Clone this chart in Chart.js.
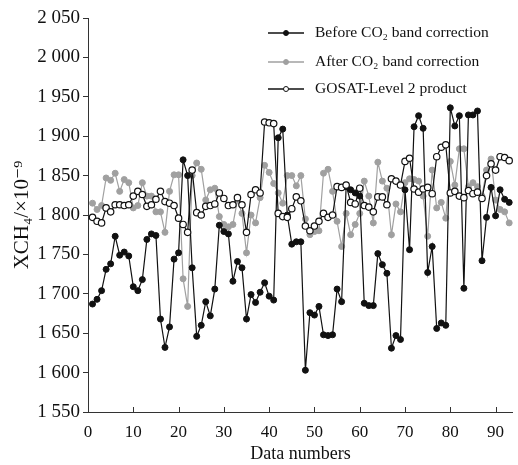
<!DOCTYPE html>
<html>
<head>
<meta charset="utf-8">
<script src="https://cdn.jsdelivr.net/npm/chart.js@4.4.0/dist/chart.umd.min.js"></script>
<style>
  html, body { margin: 0; padding: 0; background: #fff; }
</style>
</head>
<body>
<canvas id="c" width="518" height="465"></canvas>
<script>
// XCH4 values (x10^-9), data numbers 1..93
const beforeCO2 = [
  1687, 1693, 1704, 1731, 1738, 1773, 1749, 1753, 1748, 1709,
  1704, 1718, 1769, 1776, 1774, 1668, 1632, 1658, 1744, 1752,
  1870, 1850, 1733, 1646, 1660, 1690, 1672, 1706, 1787, 1779,
  1776, 1716, 1741, 1733, 1668, 1699, 1689, 1702, 1714, 1697,
  1692, 1898, 1909, 1800, 1763, 1766, 1766, 1603, 1676, 1673,
  1684, 1648, 1647, 1648, 1706, 1690, 1836, 1832, 1828, 1824,
  1688, 1685, 1685, 1751, 1737, 1726, 1631, 1647, 1642, 1832,
  1756, 1912, 1926, 1910, 1727, 1760, 1656, 1663, 1660, 1936,
  1913, 1926, 1707, 1927, 1927, 1932, 1742, 1797, 1835, 1799,
  1832, 1820, 1816
];
const afterCO2 = [
  1815, 1807, 1812, 1847, 1844, 1853, 1830, 1845, 1841, 1809,
  1812, 1841, 1824, 1824, 1804, 1804, 1778, 1830, 1851, 1851,
  1719, 1684, 1850, 1866, 1858, 1819, 1832, 1834, 1798, 1788,
  1785, 1788, 1819, 1802, 1752, 1800, 1790, 1822, 1863, 1854,
  1840, 1828, 1815, 1850, 1850, 1837, 1850, 1795, 1775, 1779,
  1780, 1853, 1858, 1830, 1792, 1760, 1802, 1775, 1788, 1802,
  1843, 1824, 1790, 1867, 1843, 1834, 1775, 1814, 1804, 1841,
  1846, 1845, 1843, 1824, 1773, 1857, 1809, 1816, 1796, 1868,
  1838, 1884, 1884, 1836, 1841, 1836, 1824, 1857, 1871, 1819,
  1807, 1804, 1790
];
const gosatL2 = [
  1797, 1792, 1790, 1809, 1804, 1813, 1813, 1812, 1813, 1824,
  1830, 1826, 1811, 1813, 1820, 1830, 1817, 1815, 1812, 1796,
  1788, 1778, 1857, 1803, 1800, 1811, 1812, 1814, 1828, 1821,
  1812, 1813, 1822, 1813, 1778, 1826, 1832, 1828, 1918, 1917,
  1916, 1802, 1798, 1797, 1808, 1823, 1818, 1786, 1780, 1786,
  1792, 1802, 1797, 1800, 1836, 1835, 1838, 1816, 1814, 1834,
  1812, 1810, 1804, 1823, 1823, 1813, 1846, 1843, 1838, 1868,
  1872, 1833, 1829, 1833, 1835, 1827, 1874, 1886, 1889, 1828,
  1830, 1824, 1822, 1831, 1827, 1829, 1821, 1850, 1865, 1857,
  1874, 1873, 1869
];
const seriesLabels = ['Before CO₂ band correction', 'After CO₂ band correction', 'GOSAT-Level 2 product'];
const xTickValues = [0, 10, 20, 30, 40, 50, 60, 70, 80, 90];

const toPoints = arr => arr.map((v, i) => ({ x: i + 1, y: v }));
const serif = '"Liberation Serif", "DejaVu Serif", serif';

// legend drawn inside the plot, upper right
const insideLegend = {
  id: 'insideLegend',
  afterDraw(chart) {
    const ctx = chart.ctx;
    const rows = [33, 62, 89];
    chart.data.datasets.forEach((ds, k) => {
      const y = rows[k];
      ctx.save();
      ctx.strokeStyle = ds.borderColor;
      ctx.lineWidth = 1.3;
      ctx.beginPath(); ctx.moveTo(268, y); ctx.lineTo(304, y); ctx.stroke();
      ctx.beginPath(); ctx.arc(286, y, 2.5, 0, Math.PI * 2);
      ctx.fillStyle = ds.pointBackgroundColor; ctx.fill();
      ctx.strokeStyle = ds.pointBorderColor; ctx.lineWidth = 1; ctx.stroke();
      ctx.fillStyle = '#111';
      ctx.font = '15.5px ' + serif;
      ctx.textBaseline = 'middle';
      ctx.fillText(ds.label, 315, y);
      ctx.restore();
    });
  }
};

// x ticks point up into the plot
const innerTicks = {
  id: 'innerTicks',
  afterDraw(chart) {
    const xs = chart.scales.x, ctx = chart.ctx, b = chart.chartArea.bottom;
    ctx.save();
    ctx.strokeStyle = '#333';
    ctx.lineWidth = 1;
    xs.ticks.forEach(t => {
      const px = Math.round(xs.getPixelForValue(t.value)) + 0.5;
      ctx.beginPath(); ctx.moveTo(px, b); ctx.lineTo(px, b - 5); ctx.stroke();
    });
    ctx.restore();
  }
};

new Chart(document.getElementById('c').getContext('2d'), {
  type: 'line',
  data: {
    datasets: [
      {
        label: seriesLabels[0],
        data: toPoints(beforeCO2),
        borderColor: '#111',
        borderWidth: 1.2,
        pointRadius: 3,
        pointBackgroundColor: '#111',
        pointBorderColor: '#111',
        pointBorderWidth: 1,
        tension: 0,
        order: 1
      },
      {
        label: seriesLabels[1],
        data: toPoints(afterCO2),
        borderColor: '#a0a0a0',
        borderWidth: 1.2,
        pointRadius: 3,
        pointBackgroundColor: '#a0a0a0',
        pointBorderColor: '#a0a0a0',
        pointBorderWidth: 1,
        tension: 0,
        order: 2
      },
      {
        label: seriesLabels[2],
        data: toPoints(gosatL2),
        borderColor: '#111',
        borderWidth: 1.2,
        pointRadius: 3.2,
        pointBackgroundColor: '#fff',
        pointBorderColor: '#111',
        pointBorderWidth: 1.2,
        tension: 0,
        order: 0
      }
    ]
  },
  options: {
    responsive: false,
    animation: false,
    devicePixelRatio: 1,
    clip: false,
    layout: { padding: { top: 18, right: 0, left: 0, bottom: 0 } },
    plugins: {
      legend: { display: false },
      tooltip: { enabled: false }
    },
    scales: {
      x: {
        type: 'linear',
        min: 0,
        max: 93.8,
        afterBuildTicks: s => { s.ticks = xTickValues.map(v => ({ value: v })); },
        afterFit: s => { s.height = 53; },
        ticks: { autoSkip: false, maxRotation: 0, padding: 2, color: '#111', font: { family: serif, size: 17 } },
        grid: { display: false },
        border: { display: true, color: '#333', width: 1 },
        title: { display: true, text: 'Data numbers', color: '#111', font: { family: serif, size: 18 }, padding: { top: 0, bottom: 0 } }
      },
      y: {
        min: 1550,
        max: 2050,
        afterFit: s => { s.width = 88; },
        ticks: {
          stepSize: 50,
          padding: 3,
          color: '#111',
          font: { family: serif, size: 19 },
          callback: v => { const s = String(v); return s[0] + ' ' + s.slice(1); }
        },
        grid: { drawOnChartArea: false, tickLength: 5, color: '#333' },
        border: { display: true, color: '#333', width: 1 },
        title: { display: true, text: 'XCH₄/×10⁻⁹', color: '#111', font: { family: serif, size: 21 }, padding: { top: 10, bottom: 0 } }
      }
    }
  },
  plugins: [insideLegend, innerTicks]
});
</script>
</body>
</html>
